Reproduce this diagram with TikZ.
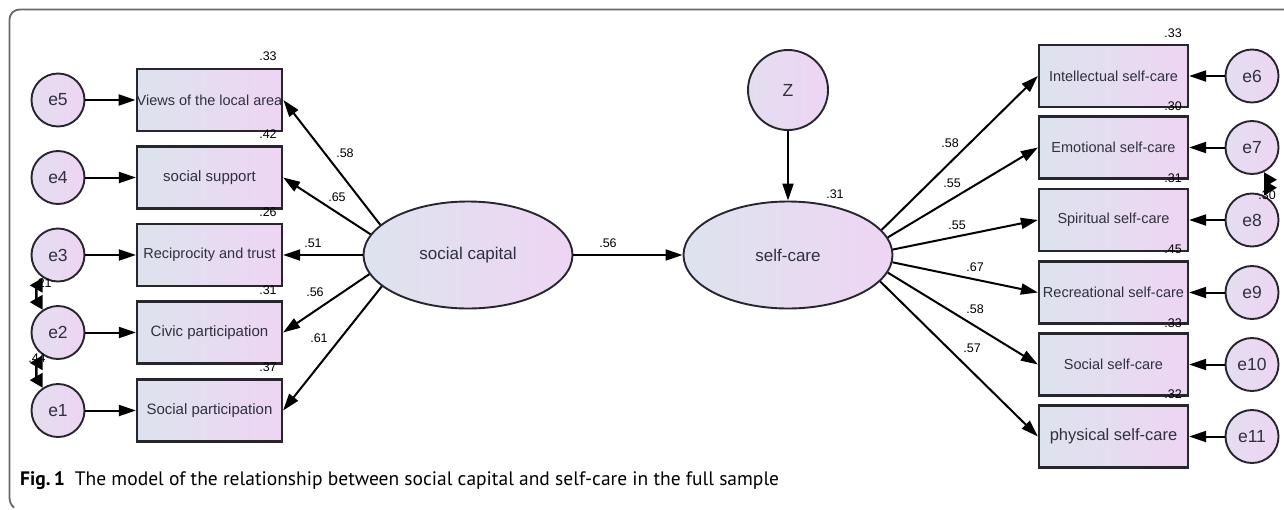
\documentclass[tikz,border=0pt]{standalone}
\usepackage{fontspec}
\setmainfont{Liberation Sans}
\newfontfamily\capfont{PT Sans}
\usetikzlibrary{arrows.meta,shapes.geometric}
\definecolor{shadeL}{RGB}{221,227,238}
\definecolor{shadeR}{RGB}{238,213,243}
\definecolor{edgec}{RGB}{38,38,44}
\definecolor{framec}{RGB}{105,105,105}
\definecolor{txtc}{RGB}{48,48,62}
\begin{document}
\begin{tikzpicture}[x=1pt,y=-1pt,
  obs/.style={draw=edgec, line width=2.2pt, left color=shadeL, right color=shadeR,
    minimum width=145pt, minimum height=62pt, inner sep=0pt, text=txtc,
    font=\fontsize{14.5}{16}\selectfont},
  obsR/.style={obs, minimum width=149pt},
  err/.style={circle, draw=edgec, line width=1.9pt, left color=shadeL!60!shadeR, right color=shadeR,
    minimum size=53pt, inner sep=0pt, text=txtc, font=\fontsize{17.5}{18}\selectfont},
  lat/.style={ellipse, draw=edgec, line width=1.9pt, left color=shadeL, right color=shadeR,
    minimum width=209pt, minimum height=107pt, inner sep=0pt, text=txtc,
    font=\fontsize{17}{18}\selectfont},
  pth/.style={-{Triangle[length=17pt,width=11pt]}, line width=2pt, draw=black},
  cov/.style={{Triangle[length=13pt,width=14pt]}-{Triangle[length=13pt,width=14pt]}, line width=2.4pt, draw=black},
  coef/.style={inner sep=0pt, font=\fontsize{12.5}{13}\selectfont, text=black},
  rsq/.style={coef}
]
\useasboundingbox (0,0) rectangle (1284,509);

% outer frame
\draw[framec, line width=1.8pt] (1284,9.5) -- (19.5,9.5) .. controls (14,9.5) and (9.5,14) .. (9.5,19.5)
  -- (9.5,497) .. controls (9.5,502) and (11,505) .. (14,507.5);

% left indicators
\node[obs] (b5) at (209.5,100) {Views of the local area};
\node[obs, font=\fontsize{15}{16}\selectfont] (b4) at (209.5,177.5) {social support};
\node[obs] (b3) at (209.5,255) {Reciprocity and trust};
\node[obs, font=\fontsize{15}{16}\selectfont] (b2) at (209.5,332.5) {Civic participation};
\node[obs, font=\fontsize{15}{16}\selectfont] (b1) at (209.5,410.5) {Social participation};

\node[err] (e5) at (58,100) {e5};
\node[err] (e4) at (58,177.5) {e4};
\node[err] (e3) at (58,255) {e3};
\node[err] (e2) at (58,332.5) {e2};
\node[err] (e1) at (58,410.5) {e1};

% latent variables
\node[lat] (cap) at (468,255) {social capital};
\node[lat] (care) at (788,255) {self-care};
\node[err, minimum size=80pt] (z) at (788,90) {Z};

% right indicators
\node[obsR] (r1) at (1113.5,76) {Intellectual self-care};
\node[obsR] (r2) at (1113.5,147.5) {Emotional self-care};
\node[obsR] (r3) at (1113.5,220) {Spiritual self-care};
\node[obsR] (r4) at (1113.5,292.5) {Recreational self-care};
\node[obsR] (r5) at (1113.5,364.5) {Social self-care};
\node[obsR, font=\fontsize{16.5}{17}\selectfont] (r6) at (1113.5,436.5) {physical self-care};

\node[err] (e6) at (1252,76) {e6};
\node[err] (e7) at (1252,147.5) {e7};
\node[err] (e8) at (1252,220) {e8};
\node[err] (e9) at (1252,292.5) {e9};
\node[err] (e10) at (1252,364.5) {e10};
\node[err] (e11) at (1252,436.5) {e11};

% error paths
\foreach \i in {1,...,5} \draw[pth] (e\i) -- (b\i);
\draw[pth] (e6) -- (r1);
\draw[pth] (e7) -- (r2);
\draw[pth] (e8) -- (r3);
\draw[pth] (e9) -- (r4);
\draw[pth] (e10) -- (r5);
\draw[pth] (e11) -- (r6);

% loadings of social capital
\draw[pth] (cap.161) -- (b5.east);
\draw[pth] (cap.168) -- (b4.east);
\draw[pth] (cap.west) -- (b3.east);
\draw[pth] (cap.191) -- (b2.east);
\draw[pth] (cap.200) -- (b1.east);

% structural paths
\draw[pth] (cap) -- (care);
\draw[pth] (z) -- (care);

% loadings of self-care
\draw[pth] (care.15) -- (r1.west);
\draw[pth] (care.10) -- (r2.west);
\draw[pth] (care.3) -- (r3.west);
\draw[pth] (care.-4) -- (r4.west);
\draw[pth] (care.-10) -- (r5.west);
\draw[pth] (care.-16) -- (r6.west);

% error covariances
\draw[cov] (e3.236) to[bend right=30] (e2.124);
\draw[cov] (e2.236) to[bend right=30] (e1.124);
\draw[cov] (e7.-64) to[bend left=30] (e8.64);

% coefficients
\node[coef] (c58a) at (345,153) {.58};
\node[coef] (c65) at (337,197) {.65};
\node[coef] (c51) at (313,243) {.51};
\node[coef] (c56a) at (315,292) {.56};
\node[coef] (c61) at (319,338) {.61};
\node[coef] (c56b) at (608,243) {.56};
\node[coef] (c31z) at (835,194) {.31};
\node[coef] (c58b) at (950,143) {.58};
\node[coef] (c55a) at (952,183) {.55};
\node[coef] (c55b) at (957,225) {.55};
\node[coef] (c67) at (975,267) {.67};
\node[coef] (c58c) at (975,309) {.58};
\node[coef] (c57) at (972,348) {.57};
\node[coef] (cv21) at (43,283) {.21};
\node[coef] (cv44) at (37,358) {.44};
\node[coef] (cv30) at (1267,195) {.30};

% squared multiple correlations
\node[rsq] (q5) at (268,56) {.33};
\node[rsq] (q4) at (268,134) {.42};
\node[rsq] (q3) at (268,212) {.26};
\node[rsq] (q2) at (268,290) {.31};
\node[rsq] (q1) at (268,367) {.37};
\node[rsq] (p1) at (1173,33) {.33};
\node[rsq] (p2) at (1173,106) {.30};
\node[rsq] (p3) at (1173,178) {.31};
\node[rsq] (p4) at (1173,249) {.45};
\node[rsq] (p5) at (1173,323) {.33};
\node[rsq] (p6) at (1173,394) {.32};

% caption
\node[anchor=west, inner sep=0pt, font=\capfont\fontsize{19.5}{21}\selectfont] (cap1) at (20,481)
  {\textbf{Fig.\,1}\hspace{10pt}The model of the relationship between social capital and self-care in the full sample};
\end{tikzpicture}
\end{document}
